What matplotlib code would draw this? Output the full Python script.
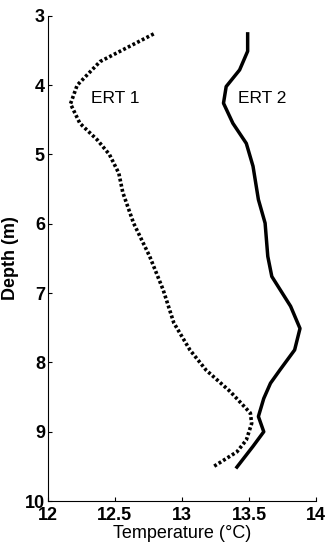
import numpy as np
import matplotlib.pyplot as plt

plt.rcParams['font.family'] = ['Liberation Sans', 'DejaVu Sans']

# ERT 1 profile (dotted)
ert1_temp = [12.79, 12.60, 12.39, 12.22, 12.17, 12.24, 12.37, 12.46, 12.53, 12.56,
             12.64, 12.76, 12.86, 12.94, 13.06, 13.18, 13.36, 13.51, 13.52, 13.48,
             13.41, 13.23]
ert1_depth = [3.26, 3.45, 3.66, 4.00, 4.27, 4.55, 4.79, 5.00, 5.27, 5.55,
              5.99, 6.47, 6.95, 7.43, 7.82, 8.11, 8.42, 8.73, 8.88, 9.12,
              9.29, 9.51]

# ERT 2 profile (solid)
ert2_temp = [13.49, 13.49, 13.43, 13.33, 13.31, 13.38, 13.48, 13.53, 13.57, 13.62,
             13.64, 13.67, 13.81, 13.88, 13.84, 13.73, 13.66, 13.61, 13.57, 13.61,
             13.53, 13.41]
ert2_depth = [3.26, 3.51, 3.78, 4.02, 4.26, 4.55, 4.84, 5.17, 5.65, 5.99,
              6.47, 6.76, 7.19, 7.51, 7.82, 8.11, 8.30, 8.52, 8.78, 9.00,
              9.21, 9.51]

fig = plt.figure(figsize=(3.31, 5.47), dpi=100)
ax = fig.add_axes([0.144, 0.084, 0.811, 0.887])

ax.plot(ert1_temp, ert1_depth, color='black', linestyle=(0, (0.8, 0.65)), linewidth=2.6)
ax.plot(ert2_temp, ert2_depth, color='black', linestyle='-', linewidth=2.5)

ax.text(12.50, 4.19, 'ERT 1', fontsize=12.5, ha='center', va='center')
ax.text(13.60, 4.19, 'ERT 2', fontsize=12.5, ha='center', va='center')

ax.set_xlim(12, 14)
ax.set_ylim(10, 3)
ax.set_xticks([12, 12.5, 13, 13.5, 14])
ax.set_xticklabels(['12', '12.5', '13', '13.5', '14'])
ax.set_yticks([3, 4, 5, 6, 7, 8, 9, 10])
ax.spines['top'].set_visible(False)
ax.spines['right'].set_visible(False)
ax.tick_params(direction='in', length=3, width=0.8, labelsize=13)
ax.tick_params(axis='x', pad=4)
ax.tick_params(axis='y', pad=2)
for lab in ax.get_xticklabels() + ax.get_yticklabels():
    lab.set_fontweight('bold')

ax.set_xlabel('Temperature (°C)', fontsize=13, labelpad=1)
ax.set_ylabel('Depth (m)', fontsize=13, fontweight='bold', labelpad=4)

fig.savefig('out.png', dpi=100)
